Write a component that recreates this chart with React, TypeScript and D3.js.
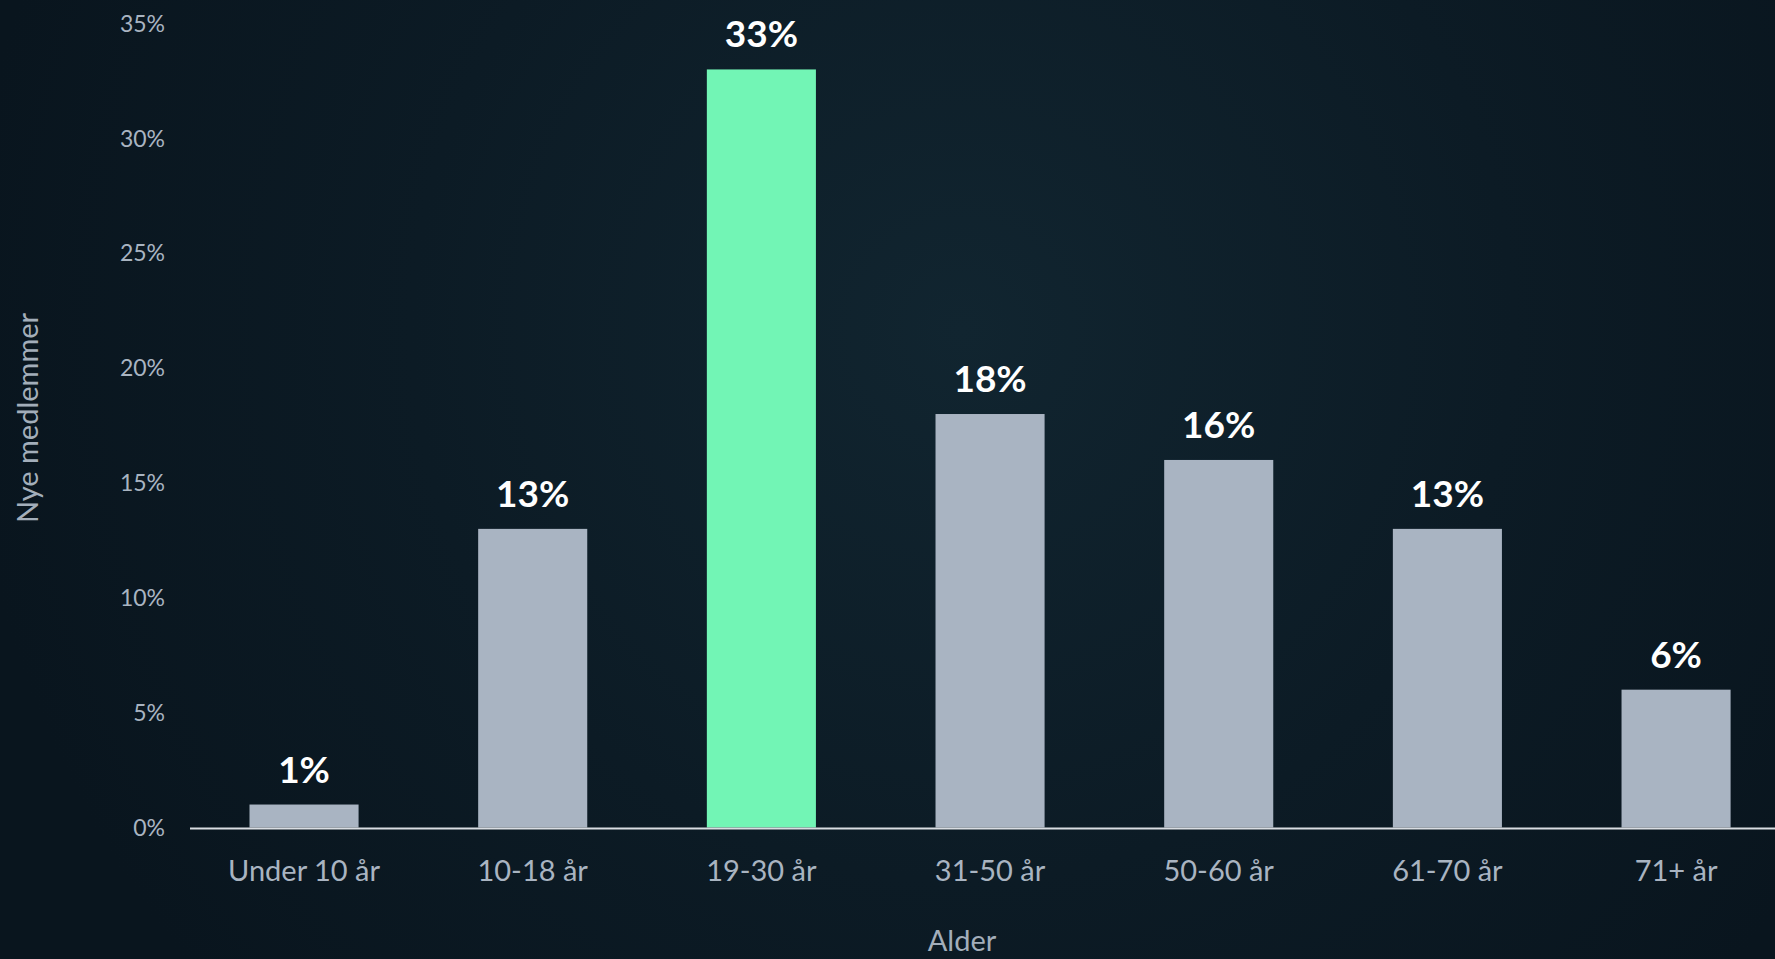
import React from "react";
import * as d3 from "d3";

const categories = ["Under 10 år", "10-18 år", "19-30 år", "31-50 år", "50-60 år", "61-70 år", "71+ år"];
const values = [1, 13, 33, 18, 16, 13, 6];
const highlighted = ["19-30 år"];
const yTicks = [0, 5, 10, 15, 20, 25, 30, 35];
const xTitle = "Alder";
const yTitle = "Nye medlemmer";

const W = 1775;
const H = 959;
const FONT = "Lato, 'Open Sans', sans-serif";

export default function App() {
  const x = d3.scaleBand<string>().domain(categories).range([189.7, 1790.4]).paddingInner(0.523).paddingOuter(0.2615);
  const y = d3.scaleLinear().domain([0, 35]).range([827.5, 23.5]);
  const fmt = (v: number) => `${v}%`;

  return (
    <svg width={W} height={H} style={{ position: "absolute", left: 0, top: 0, display: "block" }} fontFamily={FONT}>
      <defs>
        <radialGradient id="bg" cx="962" cy="330" r="1000" gradientUnits="userSpaceOnUse">
          <stop offset="0" stopColor="#112530" />
          <stop offset="0.55" stopColor="#0c1b25" />
          <stop offset="1" stopColor="#09151e" />
        </radialGradient>
      </defs>
      <rect x={0} y={0} width={W} height={H} fill="url(#bg)" />

      {yTicks.map((t) => (
        <text key={t} x={165} y={y(t)} dy="0.36em" textAnchor="end" fontSize={23} fill="#a9b4c1">
          {fmt(t)}
        </text>
      ))}

      {categories.map((c, i) => (
        <rect
          key={c}
          x={x(c)}
          y={y(values[i])}
          width={x.bandwidth()}
          height={y(0) - y(values[i])}
          fill={highlighted.includes(c) ? "#72f5b5" : "#a9b4c2"}
        />
      ))}

      <line x1={190} x2={W} y1={y(0) + 1} y2={y(0) + 1} stroke="#d9dde2" strokeWidth={2} />

      {categories.map((c, i) => (
        <text
          key={"v" + c}
          x={(x(c) as number) + x.bandwidth() / 2}
          y={y(values[i]) - 22}
          textAnchor="middle"
          fontSize={37}
          fontWeight={700}
          fill="#ffffff"
        >
          {fmt(values[i])}
        </text>
      ))}

      {categories.map((c) => (
        <text
          key={"x" + c}
          x={(x(c) as number) + x.bandwidth() / 2}
          y={881}
          textAnchor="middle"
          fontSize={29}
          fill="#a9b4c1"
        >
          {c}
        </text>
      ))}

      <text x={962} y={951} textAnchor="middle" fontSize={29} fill="#a3aeba">
        {xTitle}
      </text>
      <text
        transform={`translate(38, 418) rotate(-90)`}
        textAnchor="middle"
        fontSize={29}
        fill="#a3aeba"
      >
        {yTitle}
      </text>
    </svg>
  );
}
